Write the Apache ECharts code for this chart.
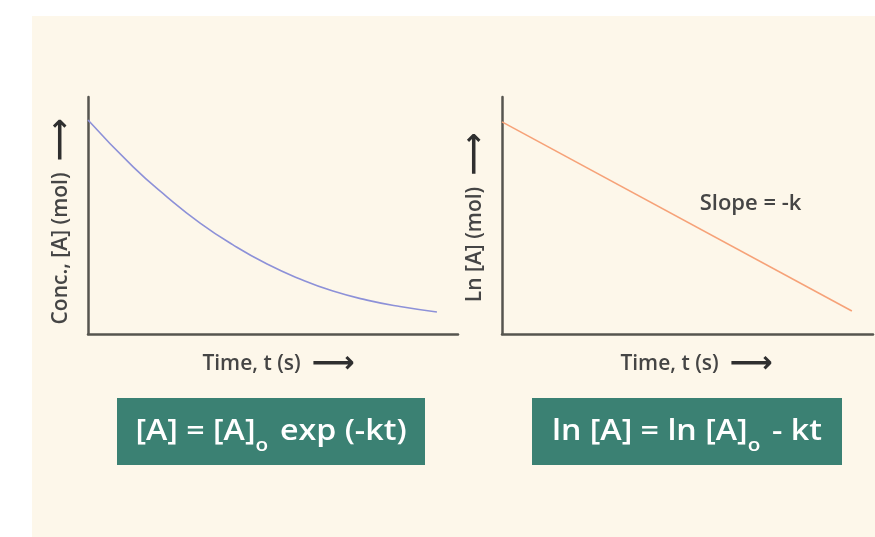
<!DOCTYPE html>
<html>
<head>
<meta charset="utf-8">
<script src="https://cdn.jsdelivr.net/npm/echarts@6/dist/echarts.min.js"></script>
<style>
  html, body { margin: 0; padding: 0; background: #ffffff; }
  #main { width: 875px; height: 537px; }
</style>
</head>
<body>
<div id="main"></div>
<script>
// values (both axes scaled 0..100)
const concTime = [0, 12.2, 21.4, 30.3, 39.2, 48.4, 57.3, 66.2, 75.4, 84.3, 94.3];
const concValues = [90.3, 70.5, 57.8, 46.8, 37.6, 29.5, 23.2, 18.1, 14.3, 11.6, 9.3];
const lnTime = [0, 94.3];
const lnValues = [89.5, 9.7];
const slopeLabel = ['Slope = -k', 67, 55];

const FONT = '"Open Sans", "Noto Sans", sans-serif';
const TEXT_COLOR = '#454545';
const AXIS_COLOR = '#56554f';
const BOX_COLOR = '#3b8173';

const myChart = echarts.init(document.getElementById('main'));

function pairs(xs, ys) {
  return xs.map((x, i) => [x, ys[i]]);
}

const nameRich = {
  arr: { fontFamily: 'DejaVu Sans', fontSize: 30, fontWeight: 'bold', color: '#2f2f2f' }
};

function makeXAxis(gridIndex, shift) {
  return {
    type: 'value', gridIndex, min: 0, max: 100,
    name: 'Time, t (s)  {arr|⟶}', nameLocation: 'middle', nameGap: 15,
    nameTextStyle: {
      fontFamily: FONT, fontSize: 21, fontWeight: 600, color: TEXT_COLOR,
      padding: [0, 0, 0, shift], rich: nameRich
    },
    axisLine: { lineStyle: { color: AXIS_COLOR, width: 2.5 } },
    axisTick: { show: false }, axisLabel: { show: false }, splitLine: { show: false }
  };
}

function makeYAxis(gridIndex, name, shift) {
  return {
    type: 'value', gridIndex, min: 0, max: 100,
    name, nameLocation: 'middle', nameGap: 12, nameRotate: 90,
    nameTextStyle: {
      fontFamily: FONT, fontSize: 21, fontWeight: 600, color: TEXT_COLOR,
      padding: [0, shift, 0, 0], rich: nameRich
    },
    axisLine: { lineStyle: { color: AXIS_COLOR, width: 2.5 } },
    axisTick: { show: false }, axisLabel: { show: false }, splitLine: { show: false }
  };
}

function formulaBox(x, w, parts) {
  return {
    type: 'group', left: x, top: 398,
    children: [
      { type: 'rect', shape: { x: 0, y: 0, width: w, height: 67 }, style: { fill: BOX_COLOR } },
      {
        type: 'text', x: w / 2, y: 34, scaleX: 1.15,
        style: {
          text: parts, align: 'center', verticalAlign: 'middle',
          fill: '#ffffff', fontFamily: FONT, fontSize: 28, fontWeight: 600,
          rich: {
            sub: { fontFamily: FONT, fontSize: 18, fontWeight: 600, fill: '#ffffff', padding: [28, 3, 0, 0] }
          }
        }
      }
    ]
  };
}

const option = {
  animation: false,
  backgroundColor: '#ffffff',
  graphic: [
    { type: 'rect', z: -10, shape: { x: 32, y: 16, width: 843, height: 521 }, style: { fill: '#fdf7ea' } },
    formulaBox(117, 308, '[A] = [A]{sub|o} exp (-kt)'),
    formulaBox(532, 310, 'ln [A] = ln [A]{sub|o} - kt')
  ],
  grid: [
    { left: 88, top: 97, width: 370, height: 237 },
    { left: 502, top: 97, width: 371, height: 237 }
  ],
  xAxis: [makeXAxis(0, 11), makeXAxis(1, 18)],
  yAxis: [
    makeYAxis(0, 'Conc., [A] (mol)  {arr|⟶}', 12),
    makeYAxis(1, 'Ln [A] (mol)  {arr|⟶}', 4)
  ],
  series: [
    {
      type: 'line', xAxisIndex: 0, yAxisIndex: 0, smooth: true, symbol: 'none',
      lineStyle: { color: '#8d91d8', width: 1.6 },
      data: pairs(concTime, concValues)
    },
    {
      type: 'line', xAxisIndex: 1, yAxisIndex: 1, symbol: 'none',
      lineStyle: { color: '#f6a278', width: 1.6 },
      data: pairs(lnTime, lnValues),
      markPoint: {
        symbol: 'circle', symbolSize: 0,
        label: {
          show: true, formatter: slopeLabel[0], position: 'inside',
          fontFamily: FONT, fontSize: 22, fontWeight: 600, color: TEXT_COLOR
        },
        data: [{ coord: [slopeLabel[1], slopeLabel[2]] }]
      }
    }
  ]
};

myChart.setOption(option);
</script>
</body>
</html>
